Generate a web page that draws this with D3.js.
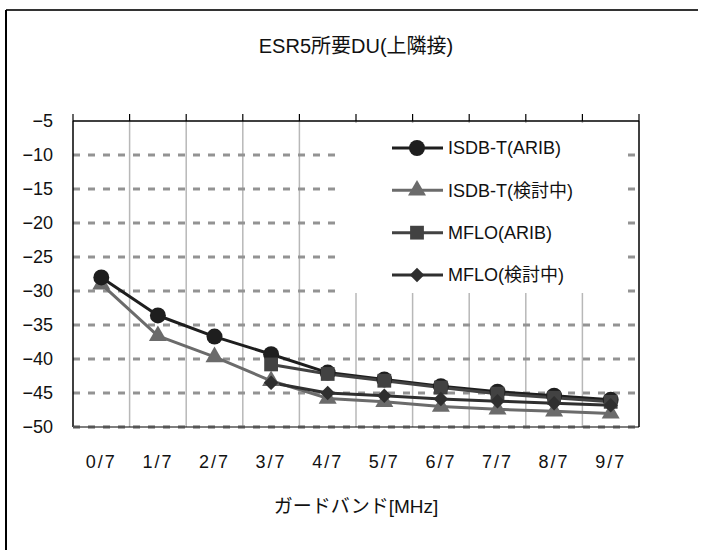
<!DOCTYPE html>
<html><head><meta charset="utf-8">
<script src="https://cdn.jsdelivr.net/npm/d3@7"></script>
<style>
html,body{margin:0;padding:0;background:#fff;}
svg{display:block;}
text{font-family:"Liberation Sans","Noto Sans CJK JP",sans-serif;fill:#111;}
</style></head>
<body>
<svg id="chart" width="703" height="550"></svg>
<script>
const categories = ["0/7","1/7","2/7","3/7","4/7","5/7","6/7","7/7","8/7","9/7"];
const isdbARIB   = [-28.0,-33.6,-36.7,-39.3,-42.0,-43.0,-44.0,-44.8,-45.4,-46.0];
const isdbKento  = [-29.0,-36.6,-39.7,-43.2,-45.8,-46.3,-47.0,-47.4,-47.7,-48.0];
const mfloARIB   = [null,null,null,-40.8,-42.2,-43.2,-44.2,-45.1,-45.7,-46.3];
const mfloKento  = [null,null,null,-43.5,-45.0,-45.4,-45.9,-46.2,-46.5,-46.8];
const seriesNames = ["ISDB-T(ARIB)","ISDB-T(検討中)","MFLO(ARIB)","MFLO(検討中)"];
const yTicks = [-5,-10,-15,-20,-25,-30,-35,-40,-45,-50];
const titleText = "ESR5所要DU(上隣接)";
const xTitleText = "ガードバンド[MHz]";

const series = [
  {name:seriesNames[0], values:isdbARIB,  color:"#1e1e1e", shape:"circle"},
  {name:seriesNames[1], values:isdbKento, color:"#6b6b6b", shape:"triangle"},
  {name:seriesNames[2], values:mfloARIB,  color:"#424242", shape:"square"},
  {name:seriesNames[3], values:mfloKento, color:"#2f2f2f", shape:"diamond"}
];

const svg = d3.select("#chart");
const L = 73, R = 639, T = 121, B = 427;
const x = d3.scaleBand().domain(categories).range([L, R]).padding(0);
const y = d3.scaleLinear().domain([-50, -5]).range([B, T]);
const cx = c => x(c) + x.bandwidth()/2;

// outer border
svg.append("line").attr("x1",6).attr("x2",698).attr("y1",10).attr("y2",10).attr("stroke","#333").attr("stroke-width",2);
svg.append("line").attr("x1",6).attr("x2",6).attr("y1",10).attr("y2",550).attr("stroke","#000").attr("stroke-width",2);

// title
svg.append("text").attr("x",(L+R)/2).attr("y",53).attr("text-anchor","middle")
  .style("font-size","20px").text(titleText);

// vertical gridlines at category boundaries
svg.append("g").selectAll("line").data(categories.slice(1)).join("line")
  .attr("x1",d=>x(d)).attr("x2",d=>x(d)).attr("y1",T).attr("y2",B)
  .attr("stroke","#b8b8b8").attr("stroke-width",1.5);

// horizontal dashed gridlines
svg.append("g").selectAll("line").data(yTicks.filter(v=>v!==-5)).join("line")
  .attr("x1",L).attr("x2",R).attr("y1",d=>y(d)).attr("y2",d=>y(d))
  .attr("stroke","#939393").attr("stroke-width",3).attr("stroke-dasharray","7,8");

// legend background
const legend = svg.append("g");
legend.append("rect").attr("x",341).attr("y",123).attr("width",286).attr("height",170).attr("fill","#fff");

// axes frame
svg.append("line").attr("x1",L).attr("x2",R).attr("y1",T).attr("y2",T).attr("stroke","#000").attr("stroke-width",1.5);
svg.append("line").attr("x1",L).attr("x2",L).attr("y1",T).attr("y2",B).attr("stroke","#000").attr("stroke-width",1.5);
svg.append("line").attr("x1",R).attr("x2",R).attr("y1",T).attr("y2",B).attr("stroke","#000").attr("stroke-width",1.5);
svg.append("line").attr("x1",L).attr("x2",R).attr("y1",B).attr("y2",B).attr("stroke","#000").attr("stroke-width",1.2);
svg.append("g").selectAll("line").data(yTicks.filter(v=>v===-50)).join("line")
  .attr("x1",L).attr("x2",R).attr("y1",d=>y(d)).attr("y2",d=>y(d))
  .attr("stroke","#555").attr("stroke-width",2.5).attr("stroke-dasharray","7,8");

// top tick marks at category boundaries
const bounds = categories.map(c=>x(c)).concat([R]);
svg.append("g").selectAll("line").data(bounds).join("line")
  .attr("x1",d=>d).attr("x2",d=>d).attr("y1",T-7).attr("y2",T)
  .attr("stroke","#000").attr("stroke-width",1.2);

// y axis labels
const yAxis = d3.axisLeft(y).tickValues(yTicks).tickSize(0).tickPadding(20)
  .tickFormat(d => d3.format("d")(d));
const gy = svg.append("g").attr("transform",`translate(${L},0)`).call(yAxis);
gy.select(".domain").remove();
gy.selectAll("text").style("font-size","18px").attr("fill","#111")
  .style("font-family",'"Liberation Sans",sans-serif');

// x axis labels
const xAxis = d3.axisBottom(x).tickSize(0).tickPadding(28);
const gx = svg.append("g").attr("transform",`translate(0,${B})`).call(xAxis);
gx.select(".domain").remove();
gx.selectAll("text").style("font-size","18px").attr("fill","#111")
  .style("letter-spacing","2px");

// x title
svg.append("text").attr("x",(L+R)/2).attr("y",513).attr("text-anchor","middle")
  .style("font-size","19px").text(xTitleText);

// symbols
function symbolPath(shape){
  if(shape==="circle") return d3.symbol(d3.symbolCircle, 200)();
  if(shape==="triangle") return d3.symbol(d3.symbolTriangle, 140)();
  if(shape==="square") return d3.symbol(d3.symbolSquare, 190)();
  return d3.symbol(d3.symbolSquare, 105)();
}
function symbolRot(shape){ return shape==="diamond" ? " rotate(45)" : ""; }

const line = d3.line().defined(d=>d.v!==null).x(d=>cx(d.c)).y(d=>y(d.v));
const drawOrder = [1,0,2,3];
drawOrder.forEach(i=>{
  const s = series[i];
  const pts = categories.map((c,j)=>({c, v:s.values[j]}));
  svg.append("path").datum(pts).attr("d",line).attr("fill","none")
    .attr("stroke",s.color).attr("stroke-width",3).attr("stroke-linejoin","round");
});
drawOrder.forEach(i=>{
  const s = series[i];
  const pts = categories.map((c,j)=>({c, v:s.values[j]})).filter(d=>d.v!==null);
  svg.append("g").selectAll("path").data(pts).join("path")
    .attr("d",symbolPath(s.shape))
    .attr("transform",d=>`translate(${cx(d.c)},${y(d.v)})${symbolRot(s.shape)}`)
    .attr("fill",s.color);
});

// legend entries
const legY = d3.scalePoint().domain(seriesNames).range([148,275]);
series.forEach(s=>{
  const g = legend.append("g").attr("transform",`translate(0,${legY(s.name)})`);
  g.append("line").attr("x1",392).attr("x2",443).attr("y1",0).attr("y2",0)
    .attr("stroke",s.color).attr("stroke-width",3);
  g.append("path").attr("d",symbolPath(s.shape)).attr("transform",`translate(417,0)${symbolRot(s.shape)}`)
    .attr("fill",s.color);
  g.append("text").attr("x",448).attr("y",0).attr("dy","0.36em")
    .style("font-size","18px").text(s.name);
});
</script>
</body></html>
